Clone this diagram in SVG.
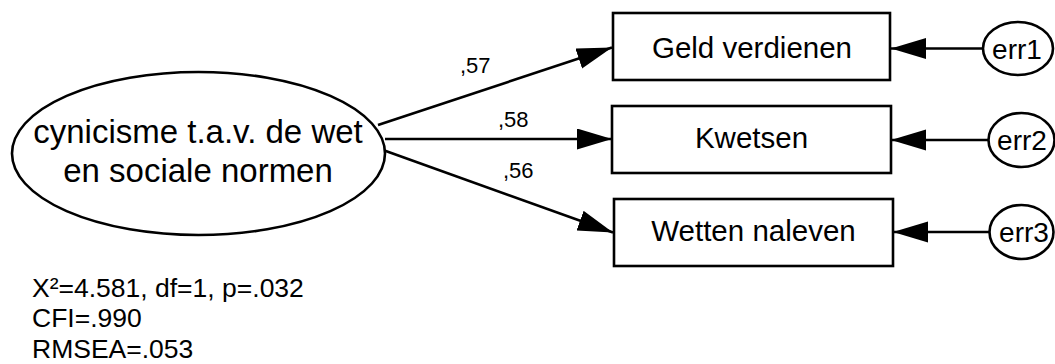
<svg xmlns="http://www.w3.org/2000/svg" width="1055" height="364" viewBox="0 0 1055 364">
<style>
text{font-family:"Liberation Sans",Arial,sans-serif;fill:#000}
.shape{fill:#fff;stroke:#000;stroke-width:2.6}
.conn{stroke:#000;stroke-width:2.6;fill:none}
.big{font-size:33px;text-anchor:middle}
.box{font-size:29.5px;text-anchor:middle}
.err{font-size:28px;text-anchor:middle}
.lbl{font-size:22px}
.fit{font-size:26.5px}
</style>
<defs>
<marker id="ah" markerUnits="userSpaceOnUse" markerWidth="36" markerHeight="22" refX="35" refY="10.5" orient="auto">
<path d="M0,0 L35,10.5 L0,21 z" fill="#000"/>
</marker>
</defs>
<rect width="1055" height="364" fill="#fff"/>
<g id="connectors">
<path class="conn" d="M378,125 L612,47.5" marker-end="url(#ah)"/>
<path class="conn" d="M385,139 L612,139" marker-end="url(#ah)"/>
<path class="conn" d="M383,150 L613,232.5" marker-end="url(#ah)"/>
<path class="conn" d="M983,48.5 L891,48.5" marker-end="url(#ah)"/>
<path class="conn" d="M988,140 L891,140" marker-end="url(#ah)"/>
<path class="conn" d="M990,232 L893,232" marker-end="url(#ah)"/>
</g>
<g id="labels">
<text class="lbl" x="460" y="73">,57</text>
<text class="lbl" x="498" y="127">,58</text>
<text class="lbl" x="503" y="178">,56</text>
</g>
<g id="latent">
<ellipse class="shape" cx="198.5" cy="153.5" rx="186.5" ry="81.5"/>
<text class="big" x="198" y="143">cynicisme t.a.v. de wet</text>
<text class="big" x="198" y="182">en sociale normen</text>
</g>
<g id="geld">
<rect class="shape" x="613" y="13" width="277" height="67"/>
<text class="box" x="752" y="58">Geld verdienen</text>
</g>
<g id="kwetsen">
<rect class="shape" x="612" y="106" width="279" height="67"/>
<text class="box" x="751.5" y="148">Kwetsen</text>
</g>
<g id="wetten">
<rect class="shape" x="614" y="199" width="279" height="67"/>
<text class="box" x="753.5" y="241">Wetten naleven</text>
</g>
<g id="err1">
<ellipse class="shape" cx="1018" cy="48.5" rx="35" ry="26.5"/>
<text class="err" x="1017" y="59">err1</text>
</g>
<g id="err2">
<ellipse class="shape" cx="1021.5" cy="140" rx="33" ry="27"/>
<text class="err" x="1022" y="150">err2</text>
</g>
<g id="err3">
<ellipse class="shape" cx="1021.5" cy="232" rx="32" ry="27"/>
<text class="err" x="1024" y="242">err3</text>
</g>
<g id="fit">
<text class="fit" x="32" y="296.5">X²=4.581, df=1, p=.032</text>
<text class="fit" x="32" y="327">CFI=.990</text>
<text class="fit" x="32" y="357.5">RMSEA=.053</text>
</g>
</svg>
